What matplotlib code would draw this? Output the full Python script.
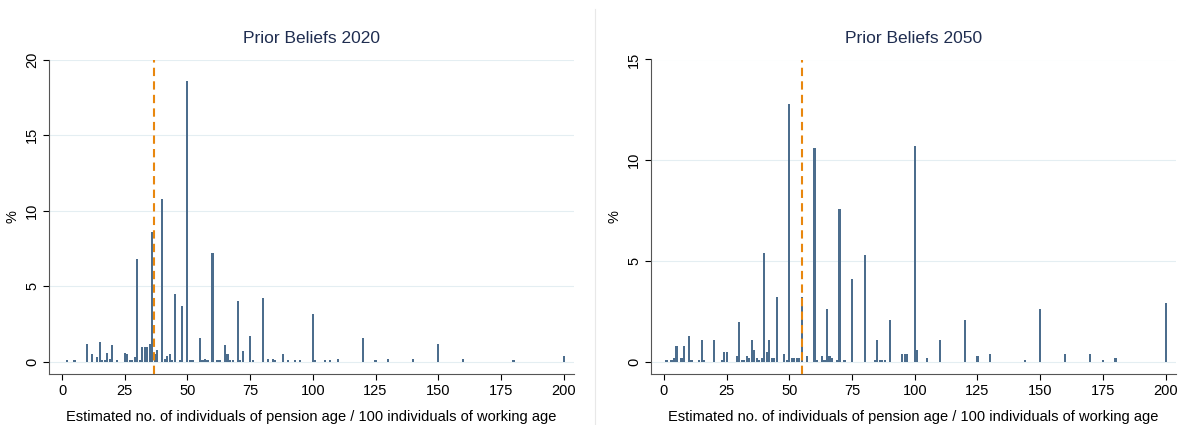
import matplotlib
matplotlib.use("Agg")
import matplotlib.pyplot as plt
plt.rcParams['font.family'] = ['Liberation Sans', 'DejaVu Sans']

x2020 = [2,5,10,12,14,15,16,17,18,19,20,22,25,26,27,28,29,30,31,32,33,34,35,36,37,38,40,41,42,43,44,45,47,48,50,51,52,55,56,57,58,60,62,63,65,66,67,68,70,71,72,75,76,80,82,84,85,88,90,93,95,100,101,105,107,110,120,125,130,140,150,160,180,200]
v2020 = [0.1,0.1,1.2,0.5,0.3,1.3,0.1,0.1,0.6,0.2,1.1,0.1,0.6,0.5,0.1,0.1,0.3,6.8,0.1,1.0,1.0,1.0,1.2,8.6,0.5,0.8,10.8,0.2,0.4,0.5,0.1,4.5,0.1,3.7,18.6,0.1,0.1,1.6,0.1,0.2,0.1,7.2,0.1,0.1,1.1,0.5,0.1,0.1,4.0,0.1,0.7,1.7,0.1,4.2,0.2,0.2,0.1,0.5,0.1,0.1,0.1,3.2,0.1,0.1,0.1,0.2,1.6,0.1,0.2,0.2,1.2,0.2,0.1,0.4]

x2050 = [1,3,4,5,7,8,10,11,14,15,16,20,23,24,25,29,30,31,32,33,34,35,36,37,38,39,40,41,42,43,44,45,48,49,50,51,52,53,54,55,57,60,61,63,64,65,66,67,69,70,72,75,80,84,85,86,87,88,90,95,96,97,100,101,105,110,120,125,130,144,150,160,170,175,180,200]
v2050 = [0.1,0.1,0.2,0.8,0.2,0.8,1.3,0.1,0.1,1.1,0.1,1.1,0.1,0.5,0.5,0.3,2.0,0.1,0.1,0.3,0.2,1.1,0.6,0.2,0.1,0.2,5.4,0.5,1.1,0.2,0.2,3.2,0.4,0.1,12.8,0.2,0.2,0.2,0.2,3.2,0.3,10.6,0.1,0.3,0.1,2.6,0.3,0.2,0.1,7.6,0.1,4.1,5.3,0.1,1.1,0.1,0.1,0.1,2.1,0.4,0.4,0.4,10.7,0.6,0.2,1.1,2.1,0.3,0.4,0.1,2.6,0.4,0.4,0.1,0.2,2.9]

median2020 = 36.5
median2050 = 55
titles = ["Prior Beliefs 2020", "Prior Beliefs 2050"]
xlabel = "Estimated no. of individuals of pension age / 100 individuals of working age"

fig = plt.figure(figsize=(11.78, 4.25), dpi=100)
ax1 = fig.add_axes([0.042, 0.12, 0.445, 0.74])
ax2 = fig.add_axes([0.553, 0.12, 0.445, 0.74])
fig.add_artist(plt.Line2D([0.505, 0.505], [0.0, 0.98], color="#e8e8e8", lw=0.8))

for ax, xs, vs, med, title, ymax, yt in [
    (ax1, x2020, v2020, median2020, titles[0], 20, [0, 5, 10, 15, 20]),
    (ax2, x2050, v2050, median2050, titles[1], 15, [0, 5, 10, 15])]:
    ax.bar(xs, vs, width=0.85, color="#4c6d8d", edgecolor="none", zorder=2)
    ax.axvline(med, color="#e8870e", lw=1.5, ls=(0, (4, 2.5)), zorder=3)
    ax.set_xlim(-5, 204)
    ax.set_ylim(-0.04 * ymax, ymax)
    ax.set_yticks(yt)
    ax.set_yticklabels([str(t) for t in yt], rotation=90, va="center", fontsize=10.5)
    ax.set_xticks([0, 25, 50, 75, 100, 125, 150, 175, 200])
    ax.tick_params(labelsize=10.5, length=4)
    ax.grid(axis="y", color="#e4eef2", lw=0.8, zorder=0)
    for s in ["top", "right"]:
        ax.spines[s].set_visible(False)
    for s in ["left", "bottom"]:
        ax.spines[s].set_color("#555555")
    ax.set_ylabel("%", fontsize=10.5)
    ax.set_xlabel(xlabel, fontsize=10.5, labelpad=8)
    ax.set_title(title, fontsize=12.5, color="#1f2d50", pad=12)

fig.savefig("out.png", dpi=100)
